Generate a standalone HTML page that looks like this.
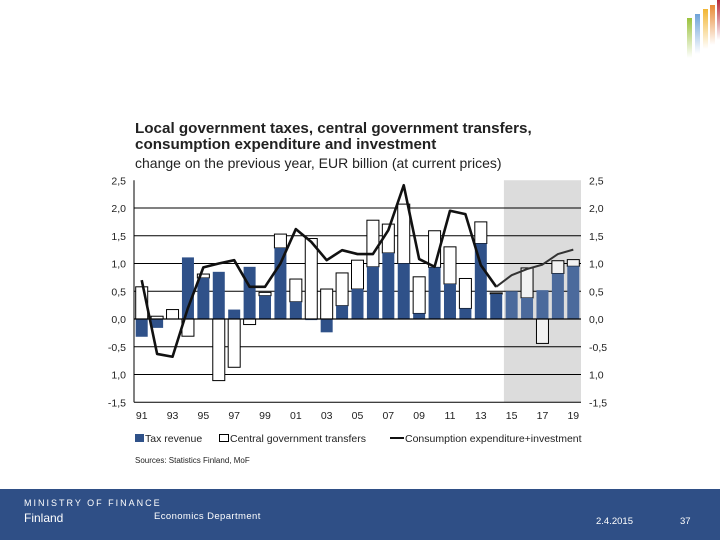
<!DOCTYPE html>
<html><head><meta charset="utf-8"><style>
body{margin:0;width:720px;height:540px;overflow:hidden;background:#fff;font-family:"Liberation Sans",sans-serif;position:relative}
.t{position:absolute;color:#222;white-space:nowrap}
</style></head><body>
<div style="position:absolute;left:686px;top:0;width:34px;height:60px">
<div style="position:absolute;left:1px;top:18px;width:5px;height:40px;background:linear-gradient(#9bc23c,rgba(155,194,60,0))"></div>
<div style="position:absolute;left:9px;top:14px;width:5px;height:40px;background:linear-gradient(#6fa3d8,rgba(111,163,216,0))"></div>
<div style="position:absolute;left:17px;top:9px;width:5px;height:40px;background:linear-gradient(#f2b632,rgba(242,182,50,0))"></div>
<div style="position:absolute;left:24px;top:5px;width:5px;height:40px;background:linear-gradient(#e88a35,rgba(232,138,53,0))"></div>
<div style="position:absolute;left:31px;top:0px;width:4px;height:40px;background:linear-gradient(#b5263a,rgba(181,38,58,0))"></div>
</div>
<div class="t" style="left:135px;top:121px;font-size:15.2px;font-weight:bold;line-height:16px">Local government taxes, central government transfers,<br>consumption expenditure and investment</div>
<div class="t" style="left:135px;top:155px;font-size:14px">change on the previous year, EUR billion (at current prices)</div>
<svg id="chart" width="720" height="480" style="position:absolute;left:0;top:0"></svg>
<div class="t" style="left:135px;top:456px;font-size:8px">Sources: Statistics Finland, MoF</div>
<div style="position:absolute;left:0;top:489px;width:720px;height:51px;background:#2f4f86">
<div class="t" style="left:24px;top:9px;color:#fff;font-size:9px;letter-spacing:2px">MINISTRY OF FINANCE</div>
<div class="t" style="left:24px;top:22px;color:#fff;font-size:12px">Finland</div>
<div class="t" style="left:154px;top:22px;color:#fff;font-size:9.5px;letter-spacing:0.4px">Economics Department</div>
<div class="t" style="left:596px;top:27px;color:#fff;font-size:9.5px">2.4.2015</div>
<div class="t" style="left:680px;top:27px;color:#fff;font-size:9.5px">37</div>
</div>
<script>
const years=[1991,1992,1993,1994,1995,1996,1997,1998,1999,2000,2001,2002,2003,2004,2005,2006,2007,2008,2009,2010,2011,2012,2013,2014,2015,2016,2017,2018,2019];
const taxRevenue=[-0.32,-0.16,0,1.11,0.74,0.85,0.17,0.94,0.42,1.28,0.31,-0.02,-0.24,0.24,0.54,0.94,1.19,1.0,0.1,0.93,0.63,0.19,1.36,0.45,0.5,0.38,0.52,0.82,0.95];
const transfers=[0.58,0.05,0.17,-0.31,0.07,-1.11,-0.87,-0.1,0.06,0.25,0.41,1.45,0.54,0.59,0.52,0.84,0.52,1.07,0.66,0.66,0.67,0.54,0.39,0.02,0,0.54,-0.44,0.23,0.12];
const consumption=[0.7,-0.63,-0.68,0.2,0.93,1.0,1.06,0.58,0.58,1.0,1.62,1.39,1.06,1.24,1.17,1.17,1.6,2.41,1.08,0.94,1.95,1.89,0.97,0.58,0.79,0.9,0.98,1.17,1.25];
const yTicks=[2.5,2.0,1.5,1.0,0.5,0,-0.5,-1.0,-1.5];
const yTickLabels=["2,5","2,0","1,5","1,0","0,5","0,0","-0,5","1,0","-1,5"];
const xTickLabels=["91","93","95","97","99","01","03","05","07","09","11","13","15","17","19"];
const forecastStart=2015;

const NS="http://www.w3.org/2000/svg";
const svg=document.getElementById('chart');
const X0=134,X1=581,Y0=319,PU=55.5;
const step=(X1-X0)/years.length;
const xc=i=>X0+(i+0.5)*step;
const y=v=>Y0-v*PU;
function mk(t,a){const e=document.createElementNS(NS,t);for(const k in a)e.setAttribute(k,a[k]);svg.appendChild(e);return e;}
const fi=years.indexOf(forecastStart);
let sh=mk('rect',{x:X0+fi*step,y:y(2.5),width:X1-(X0+fi*step),height:y(-1.5)-y(2.5),fill:'#dcdcdc'});


yTicks.forEach((v,k)=>{
  if(v!==2.5&&v!==0){let g=mk('line',{x1:X0,x2:X1,y1:y(v),y2:y(v),stroke:'#000','stroke-width':1});
  
  }
  let l=mk('text',{x:126,y:y(v)+4,'text-anchor':'end','font-size':10.5,fill:'#222','font-family':'Liberation Sans'});l.textContent=yTickLabels[k];
  
  
  let r=mk('text',{x:589,y:y(v)+4,'font-size':10.5,fill:'#222','font-family':'Liberation Sans'});r.textContent=yTickLabels[k];
  
  
});
let ax=mk('line',{x1:X0,x2:X0,y1:y(2.5),y2:y(-1.5),stroke:'#000'});


const bw=12;
years.forEach((yr,i)=>{
  const fc=yr>=forecastStart;
  const t=taxRevenue[i],tr=transfers[i];
  const x=xc(i)-bw/2;
  let base=(tr>=0&&t>0)?t:(tr<0&&t<0?t:0);
  if(tr!==0){
    let a=y(base),b=y(base+tr);
    let r=mk('rect',{x:x,y:Math.min(a,b),width:bw,height:Math.abs(b-a),fill:fc?'#f2f2f2':'#fff',stroke:'#000','stroke-width':1});
    
    
  }
  let a=y(0),b=y(t);
  let r=mk('rect',{x:x,y:Math.min(a,b),width:bw,height:Math.abs(b-a),fill:fc?'#4b6a9c':'#2f5189'});
  
  
});
let zl=mk('line',{x1:X0,x2:X1,y1:y(0),y2:y(0),stroke:'#000','stroke-width':1.2});


let pts=consumption.map((v,i)=>xc(i)+','+y(v));
let pl=mk('polyline',{points:pts.slice(0,fi).join(' '),fill:'none',stroke:'#111','stroke-width':2.6,'stroke-linejoin':'round'});


let pl2=mk('polyline',{points:pts.slice(fi-1).join(' '),fill:'none',stroke:'#333','stroke-width':2,'stroke-linejoin':'round'});


xTickLabels.forEach(s=>{
  const yr=+s<50?2000+ +s:1900+ +s;const i=years.indexOf(yr);
  let t=mk('text',{x:xc(i),y:419,'text-anchor':'middle','font-size':10.5,fill:'#222','font-family':'Liberation Sans'});t.textContent=s;
  
  
});
function leg(el){}
let r1=mk('rect',{x:135,y:434,width:9,height:8,fill:'#2f5189'});leg(r1);
let t1=mk('text',{x:145,y:442,'font-size':10.5,fill:'#222','font-family':'Liberation Sans'});t1.textContent='Tax revenue';leg(t1);
let r2=mk('rect',{x:219.5,y:434.5,width:9,height:7,fill:'#fff',stroke:'#000'});leg(r2);
let t2=mk('text',{x:230,y:442,'font-size':10.5,fill:'#222','font-family':'Liberation Sans'});t2.textContent='Central government transfers';leg(t2);
let l3=mk('line',{x1:390,x2:404,y1:438,y2:438,stroke:'#111','stroke-width':2});leg(l3);
let t3=mk('text',{x:405,y:442,'font-size':10.5,fill:'#222','font-family':'Liberation Sans'});t3.textContent='Consumption expenditure+investment';leg(t3);
</script>
</body></html>
